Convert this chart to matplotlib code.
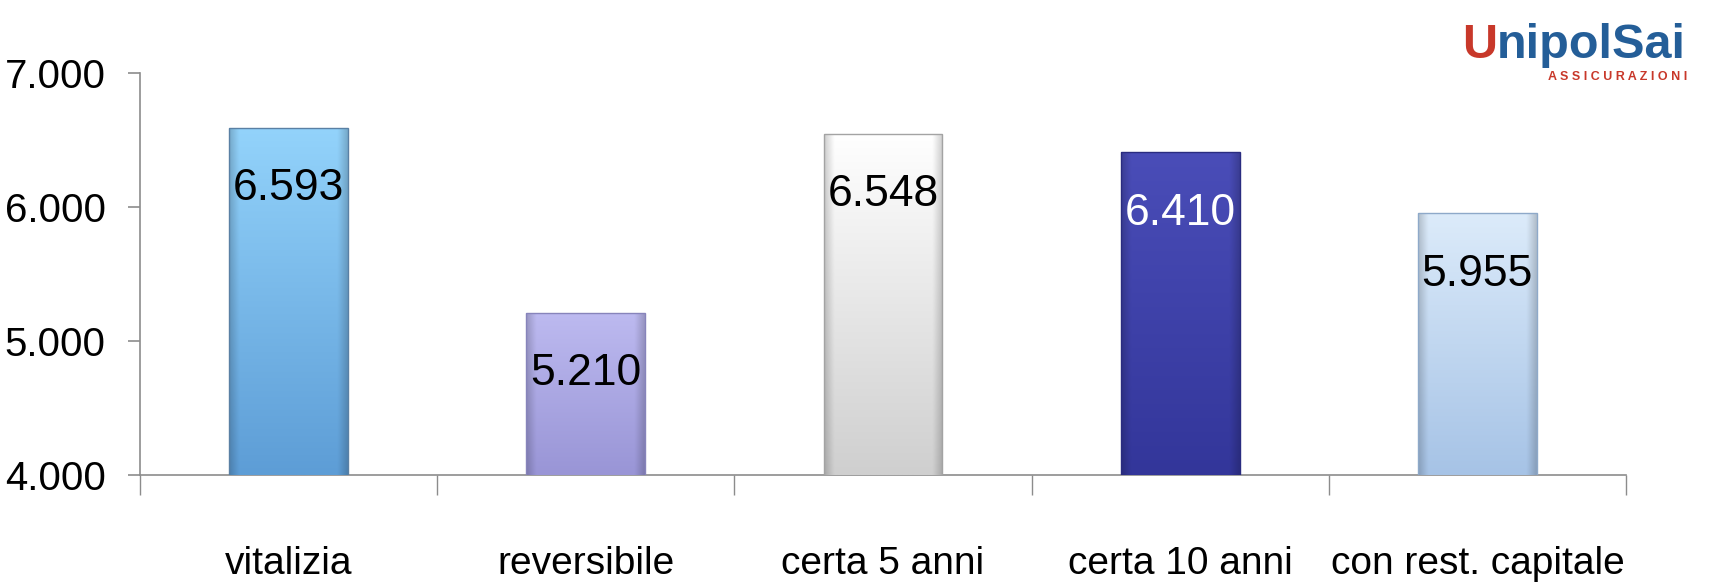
import numpy as np
import matplotlib
matplotlib.use("Agg")
import matplotlib.pyplot as plt
from matplotlib import font_manager
from matplotlib.colors import to_rgb

# ---- data ----
categories = ["vitalizia", "reversibile", "certa 5 anni", "certa 10 anni", "con rest. capitale"]
values = [6593, 5210, 6548, 6410, 5955]
value_labels = ["6.593", "5.210", "6.548", "6.410", "5.955"]
y_ticks = [4000, 5000, 6000, 7000]
y_tick_labels = ["4.000", "5.000", "6.000", "7.000"]

top_colors = ["#93d3fb", "#bdbaf0", "#ffffff", "#4a4db8", "#dcebfa"]
bottom_colors = ["#5d9dd6", "#9995d6", "#cfcfcf", "#33369a", "#a6c3e6"]
edge_colors = ["#5a80a4", "#8784bb", "#a3a3a3", "#2a2c80", "#8ea9c9"]
label_colors = ["black", "black", "black", "white", "black"]

names = {f.name for f in font_manager.fontManager.ttflist}
narrow = "Liberation Sans Narrow" in names
fam = "Liberation Sans Narrow" if narrow else "Liberation Sans"
if narrow:
    fs_tick, fs_val, fs_cat, fs_logo = 34, 38, 32, 42
else:
    fs_tick, fs_val, fs_cat, fs_logo = 29, 32, 28, 35
plt.rcParams["font.family"] = [fam, "DejaVu Sans"]

fig = plt.figure(figsize=(17.11, 5.88), dpi=100)
ax = fig.add_axes([140 / 1711, 1 - 475 / 588, 1486 / 1711, 402 / 588])

x = np.arange(len(categories))
bars = ax.bar(x, values, width=0.4, color=top_colors, edgecolor=edge_colors,
              linewidth=1.0, zorder=3)

ax.set_xlim(-0.5, len(categories) - 0.5)
ax.set_ylim(4000, 7000)

# gradient fill inside each bar
ny, nx = 200, 60
for bar, c0, c1 in zip(bars, top_colors, bottom_colors):
    t = np.linspace(0, 1, ny)[:, None, None]
    a = np.array(to_rgb(c0))[None, None, :]
    b = np.array(to_rgb(c1))[None, None, :]
    img = a * (1 - t) + b * t
    img = np.repeat(img, nx, axis=1)
    u = np.linspace(0, 1, nx)
    edge = np.clip(1 - np.minimum(u, 1 - u) / 0.08, 0, 1)
    img = img * (1 - 0.18 * edge[None, :, None])
    img = np.clip(img, 0, 1)
    x0 = bar.get_x()
    w = bar.get_width()
    h = bar.get_height()
    im = ax.imshow(img, extent=(x0, x0 + w, ax.get_ylim()[0], h), aspect="auto",
                   zorder=3.5, interpolation="bilinear")
    im.set_clip_path(bar)
    bar.set_facecolor("none")
    bar.set_zorder(4)
ax.set_xlim(-0.5, len(categories) - 0.5)
ax.set_ylim(4000, 7000)

# value labels
for bar, lab, col in zip(bars, value_labels, label_colors):
    ax.annotate(lab, xy=(bar.get_x() + bar.get_width() / 2, bar.get_height()),
                xytext=(0, -44), textcoords="offset points",
                ha="center", va="center", fontsize=fs_val, color=col, zorder=6)

# axes styling
for s in ["top", "right"]:
    ax.spines[s].set_visible(False)
for s in ["left", "bottom"]:
    ax.spines[s].set_color("#8c8c8c")
    ax.spines[s].set_linewidth(1.2)

ax.set_yticks(y_ticks)
ax.set_yticklabels(y_tick_labels)
ax.tick_params(axis="y", length=8.6, width=1.2, color="#8c8c8c", pad=16,
               labelsize=fs_tick)

ax.set_xticks(np.arange(-0.5, len(categories), 1.0))
ax.set_xticklabels([])
ax.tick_params(axis="x", which="major", length=14.4, width=1.0, color="#8c8c8c")
ax.set_xticks(x, minor=True)
ax.set_xticklabels(categories, minor=True)
ax.tick_params(axis="x", which="minor", length=0, pad=51, labelsize=fs_cat)

# logo
blue = "#245e98"
red = "#c8382a"
t_u = fig.text(1462 / 1711, 1 - 58 / 588, "U", ha="left", va="baseline",
               fontsize=fs_logo, fontweight="bold", color=red)
ax.annotate("nipolSai", xy=(1, 0), xycoords=t_u, ha="left", va="bottom",
            fontsize=fs_logo, fontweight="bold", color=blue,
            annotation_clip=False)
fig.text(1687 / 1711, 1 - 80 / 588, "A S S I C U R A Z I O N I", ha="right",
         va="baseline", fontsize=9, fontweight="bold", color=red)

fig.savefig("out.png", dpi=100)
